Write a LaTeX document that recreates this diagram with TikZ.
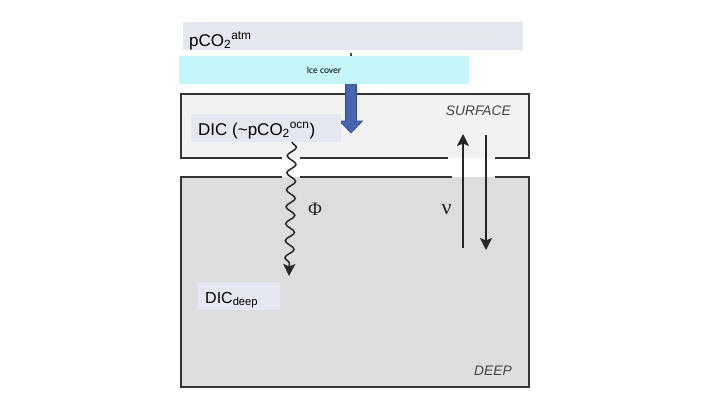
\documentclass[tikz,border=0pt]{standalone}
\usepackage{fontspec}
\setmainfont{Liberation Sans}
\newfontfamily\grk{Liberation Serif}
\newfontfamily\calib{Carlito}
\usetikzlibrary{arrows.meta,decorations.pathmorphing,calc}
\definecolor{surffill}{HTML}{F2F2F2}
\definecolor{deepfill}{HTML}{DCDDDF}
\definecolor{lblfill}{HTML}{E5E8F0}
\definecolor{icefill}{HTML}{C4F6FA}
\definecolor{bluearr}{HTML}{4766AF}
\definecolor{bluedark}{HTML}{2E4B8F}
\definecolor{edge}{HTML}{333333}
\definecolor{txtgray}{HTML}{444444}
\tikzset{
  panel/.style={anchor=north west, inner sep=0pt, outer sep=0pt},
  lbl/.style={anchor=base west, inner sep=0pt, font=\fontsize{17}{20}\selectfont},
  tag/.style={anchor=base east, inner sep=0pt, text=txtgray, font=\fontsize{13.8}{16}\selectfont\itshape},
  border/.style={draw=edge, line width=2pt},
  flow/.style={draw=black!85, line width=1.6pt, -{Stealth[length=12pt,width=12pt,inset=2.5pt]}},
}
\begin{document}
\begin{tikzpicture}[x=1pt,y=-1pt]
\useasboundingbox (0,0) rectangle (720,405);
\fill[white] (0,0) rectangle (720,405);

% atmosphere label box
\node[panel, fill=lblfill, minimum width=340pt, minimum height=28pt] (atm) at (183,22) {};
\node[lbl] (atmtxt) at (189,46) {pCO\textsubscript{2}\textsuperscript{atm}};

% tiny mark below atm box
\coordinate (tk) at (351,56);
\draw[black!70, line width=1.2pt] (351,53) -- (tk);

% ocean boxes (fills)
\node[panel, fill=surffill, minimum width=348pt, minimum height=64pt] (surf) at (181,94) {};
\node[panel, fill=deepfill, minimum width=348pt, minimum height=210pt] (deep) at (181,177) {};

% borders with gaps
\draw[border] (282,158) -- (surf.south west) -- (surf.north west) -- (surf.north east) -- (surf.south east) -- (495,158);
\draw[border] (300,158) -- (448,158);
\draw[border] (282,177) -- (deep.north west) -- (deep.south west) -- (deep.south east) -- (deep.north east) -- (495,177);
\draw[border] (300,177) -- (452,177);

% blue arrow
\coordinate (bt) at (351,84);
\coordinate (bb) at (351,133);
\fill[bluearr, draw=bluedark, line width=0.6pt]
  ($(bt)+(-5.5,0)$) -- ($(bt)+(5.5,0)$) -- ($(bb)+(5.5,-12)$) -- ($(bb)+(11.5,-12)$) --
  (bb) -- ($(bb)+(-11.5,-12)$) -- ($(bb)+(-5.5,-12)$) -- cycle;

% ice cover
\node[panel, fill=icefill, minimum width=290pt, minimum height=28pt] (ice) at (179,56) {};
\node[inner sep=0pt, font=\calib\fontsize{9.5}{11}\selectfont] (icetxt) at (324,70) {Ice cover};

% DIC surface label
\node[panel, fill=lblfill, minimum width=150pt, minimum height=28pt] (dicbox) at (191,114) {};
\node[lbl] (dictxt) at (198,135) {DIC (\textasciitilde pCO\textsubscript{2}\textsuperscript{ocn})};

% SURFACE / DEEP tags
\node[tag] (surftag) at (511,115) {SURFACE};
\node[tag] (deeptag) at (512,375.5) {DEEP};

% DIC deep label
\node[panel, fill=lblfill, minimum width=82pt, minimum height=28pt] (deepbox) at (198,282) {};
\node[lbl, font=\fontsize{16}{19}\selectfont] (deeptxt) at (205,303) {DIC\textsubscript{deep}};

% wavy flux arrow
\coordinate (wt) at (292,142);
\coordinate (wb) at (289,276);
\draw[draw=black!85, line width=1.5pt, decorate,
  decoration={snake, amplitude=4.5pt, segment length=17pt, post length=9pt},
  -{Stealth[length=12pt,width=12pt,inset=2.5pt]}] (wt) -- (wb);
\node[font=\grk\fontsize{19}{22}\selectfont, text=black!85] (phi) at (315,209.5) {Φ};

% overturning arrows
\coordinate (ua) at (463,248);
\coordinate (ub) at (463,134);
\coordinate (da) at (486,135);
\coordinate (db) at (486,250);
\draw[flow] (ua) -- (ub);
\draw[flow] (da) -- (db);
\node[font=\grk\fontsize{22}{24}\selectfont, text=black!85] (nu) at (446.5,210) {ν};
\end{tikzpicture}
\end{document}
